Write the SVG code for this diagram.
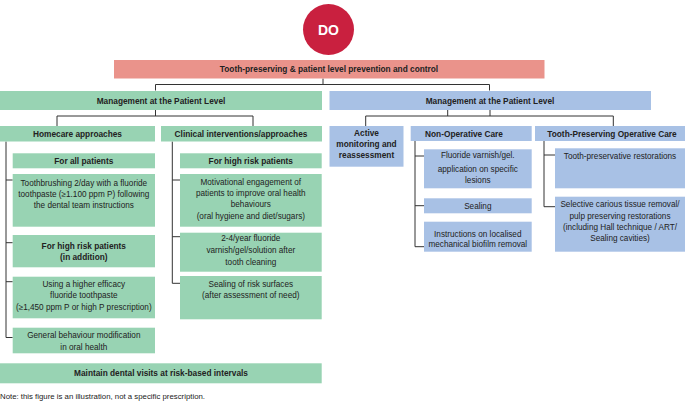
<svg xmlns="http://www.w3.org/2000/svg" width="685" height="402" viewBox="0 0 685 402">
<style>
text{font-family:"Liberation Sans",Arial,sans-serif;font-size:8.2px;fill:#222;text-anchor:middle}
.b{font-weight:bold;font-size:8.3px}
.g{fill:#98d3b3}
.bl{fill:#a8c1e5}
.pk{fill:#ea938b}
.ln{fill:none;stroke:#333;stroke-width:1}
.note{text-anchor:start;font-size:7.8px}
</style>
<rect width="685" height="402" fill="#fff"/>
<g id="connectors">
<path class="ln" d="M323 78.5V84.5M155.5 90.5V84.5H489.5V90.5"/>
<path class="ln" d="M155.5 110V116M57 126V116H253V126"/>
<path class="ln" d="M6 141.5V337.5H12.7M6 180H12.7M6 242.7H12.7M6 281.7H12.7"/>
<path class="ln" d="M172.3 141.5V283.3H180M172.3 180H180M172.3 236.7H180"/>
<path class="ln" d="M447.7 110V116M490 110V116M365.7 126V116H613.3V126"/>
<path class="ln" d="M415 141V246.7H424M415 156H424M415 205.7H424"/>
<path class="ln" d="M544 141V206.7H555M544 155H555"/>
</g>
<g id="do">
<circle cx="328.5" cy="29.5" r="25.5" fill="#c9203f"/>
<text x="328.5" y="34.5" class="b" style="font-size:14px;fill:#fff">DO</text>
</g>
<g id="top">
<rect class="pk" x="114" y="60" width="430.5" height="18.5"/>
<text x="329" y="72.3" class="b">Tooth-preserving &amp; patient level prevention and control</text>
</g>
<g id="mgmt-green">
<rect class="g" x="0" y="91" width="322" height="19"/>
<text x="161" y="103.5" class="b">Management at the Patient Level</text>
</g>
<g id="mgmt-blue">
<rect class="bl" x="329.5" y="91" width="321.5" height="19"/>
<text x="490" y="103.5" class="b">Management at the Patient Level</text>
</g>
<g id="homecare">
<rect class="g" x="0" y="126" width="155" height="15.5"/>
<text x="77.5" y="136.8" class="b">Homecare approaches</text>
</g>
<g id="clinical">
<rect class="g" x="161" y="126" width="161" height="15.5"/>
<text x="241" y="136.8" class="b">Clinical interventions/approaches</text>
</g>
<g id="for-all">
<rect class="g" x="12.7" y="153.3" width="142.3" height="15"/>
<text x="83.8" y="163.8" class="b">For all patients</text>
</g>
<g id="toothbrushing">
<rect class="g" x="12.7" y="174" width="142.3" height="52.7"/>
<text x="83.8" y="185.5">Toothbrushing 2/day with a fluoride</text>
<text x="83.8" y="196.8">toothpaste (≥1.100 ppm P) following</text>
<text x="83.8" y="207.8">the dental team instructions</text>
</g>
<g id="high-risk-add">
<rect class="g" x="12.7" y="235" width="142.3" height="32.3"/>
<text x="83.8" y="248.8" class="b">For high risk patients</text>
<text x="83.8" y="260.1" class="b">(in addition)</text>
</g>
<g id="higher-efficacy">
<rect class="g" x="12.7" y="276.7" width="142.3" height="41.6"/>
<text x="83.8" y="286.8">Using a higher efficacy</text>
<text x="83.8" y="298.3">fluoride toothpaste</text>
<text x="83.8" y="309.5">(≥1,450 ppm P or high P prescription)</text>
</g>
<g id="general-behaviour">
<rect class="g" x="12.7" y="327.7" width="142.3" height="25.6"/>
<text x="83.8" y="337.8">General behaviour modification</text>
<text x="83.8" y="349.5">in oral health</text>
</g>
<g id="high-risk-clinical">
<rect class="g" x="180" y="153.3" width="141.7" height="15"/>
<text x="250.8" y="163.8" class="b">For high risk patients</text>
</g>
<g id="motivational">
<rect class="g" x="180" y="174" width="141.7" height="52.7"/>
<text x="250.8" y="184.5">Motivational engagement of</text>
<text x="250.8" y="196.1">patients to improve oral health</text>
<text x="250.8" y="207.1">behaviours</text>
<text x="250.8" y="218.8">(oral hygiene and diet/sugars)</text>
</g>
<g id="varnish-year">
<rect class="g" x="180" y="232.7" width="141.7" height="39"/>
<text x="250.8" y="241.1">2-4/year fluoride</text>
<text x="250.8" y="252.8">varnish/gel/solution after</text>
<text x="250.8" y="264.5">tooth cleaning</text>
</g>
<g id="sealing-risk">
<rect class="g" x="180" y="276" width="141.7" height="43.3"/>
<text x="250.8" y="286.8">Sealing of risk surfaces</text>
<text x="250.8" y="297.8">(after assessment of need)</text>
</g>
<g id="maintain">
<rect class="g" x="0" y="363.3" width="321.7" height="20"/>
<text x="161" y="376.3" class="b">Maintain dental visits at risk-based intervals</text>
</g>
<g id="active">
<rect class="bl" x="329.5" y="126" width="74" height="40.7"/>
<text x="366.5" y="136.1" class="b">Active</text>
<text x="366.5" y="147.1" class="b">monitoring and</text>
<text x="366.5" y="157.8" class="b">reassessment</text>
</g>
<g id="non-operative">
<rect class="bl" x="410.7" y="126" width="121" height="15"/>
<text x="464" y="136.8" class="b">Non-Operative Care</text>
</g>
<g id="fluoride-lesions">
<rect class="bl" x="424" y="149.3" width="107.7" height="39"/>
<text x="477.8" y="157.8">Fluoride varnish/gel.</text>
<text x="477.8" y="172.1">application on specific</text>
<text x="477.8" y="182.8">lesions</text>
</g>
<g id="sealing">
<rect class="bl" x="424" y="198.3" width="107.7" height="15"/>
<text x="477.8" y="208.5">Sealing</text>
</g>
<g id="instructions">
<rect class="bl" x="424" y="221.7" width="107.7" height="30"/>
<text x="477.8" y="236.8">Instructions on localised</text>
<text x="477.8" y="247.1">mechanical biofilm removal</text>
</g>
<g id="tooth-preserving">
<rect class="bl" x="535" y="126" width="150" height="15"/>
<text x="612" y="136.8" class="b">Tooth-Preserving Operative Care</text>
</g>
<g id="restorations">
<rect class="bl" x="555" y="148.3" width="130" height="40"/>
<text x="620" y="158.8">Tooth-preservative restorations</text>
</g>
<g id="selective">
<rect class="bl" x="555" y="196.7" width="130" height="55"/>
<text x="620" y="207.1">Selective carious tissue removal/</text>
<text x="620" y="218.8">pulp preserving restorations</text>
<text x="620" y="229.5">(including Hall technique / ART/</text>
<text x="620" y="241.1">Sealing cavities)</text>
</g>
<text x="0" y="399" class="note">Note: this figure is an illustration, not a specific prescription.</text>
</svg>
